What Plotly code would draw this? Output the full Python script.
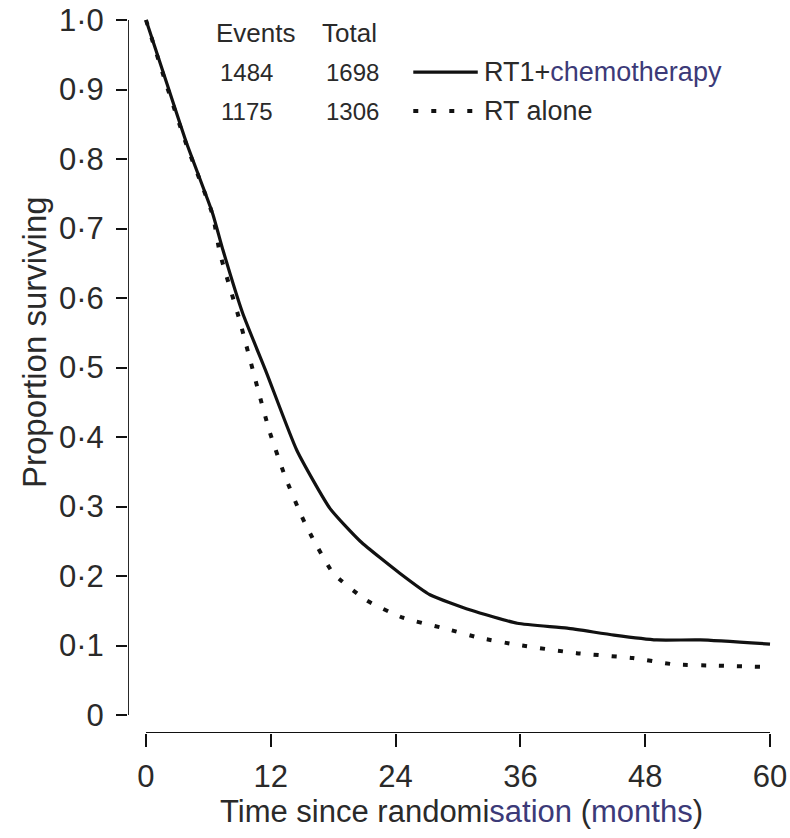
import plotly.graph_objects as go

# ---- data ----
months_chemo = [0, 2, 3.9, 6.4, 7.4, 9.3, 11.6, 14.5, 17.7, 20.6, 24.4, 27.3, 31.2, 35.7, 40.5, 45, 49.1, 53.3, 60]
surv_chemo = [1.0, 0.909, 0.823, 0.722, 0.669, 0.578, 0.492, 0.381, 0.297, 0.25, 0.204, 0.173, 0.151, 0.132, 0.125, 0.115, 0.108, 0.108, 0.102]

months_rt = [0, 2, 3.9, 6.4, 7.1, 9.0, 10.7, 11.9, 13.4, 15.0, 16.0, 18.0, 21.2, 24.7, 28.6, 32.1, 35.7, 41.4, 46.8, 50.7, 55, 60]
surv_rt = [1.0, 0.905, 0.82, 0.72, 0.665, 0.568, 0.472, 0.407, 0.342, 0.285, 0.255, 0.204, 0.165, 0.140, 0.125, 0.111, 0.101, 0.089, 0.082, 0.073, 0.071, 0.069]

group_names = ["RT1+chemotherapy", "RT alone"]
events = [1484, 1175]
totals = [1698, 1306]

x_ticks = [0, 12, 24, 36, 48, 60]
y_ticks = [0, 0.1, 0.2, 0.3, 0.4, 0.5, 0.6, 0.7, 0.8, 0.9, 1.0]
y_ticktext = ["0", "0·1", "0·2", "0·3", "0·4", "0·5", "0·6", "0·7", "0·8", "0·9", "1·0"]

FONT = "Liberation Sans"
TXT = "#2a2a2a"
BLUE = "#3c3a78"

fig = go.Figure()
fig.add_trace(go.Scatter(x=months_chemo, y=surv_chemo, mode="lines", line_shape="spline",
                         line=dict(color="#111111", width=3.2, smoothing=0.5), showlegend=False))
fig.add_trace(go.Scatter(x=months_rt, y=surv_rt, mode="lines", line_shape="spline",
                         line=dict(color="#111111", width=4, dash="5px,13px", smoothing=0.5),
                         showlegend=False))

XMIN, XMAX = -1.73, 60.48
YMIN, YMAX = -0.0259, 1.0072

# axis lines (separated, like the reference)
fig.add_shape(type="line", xref="x", yref="y", x0=XMIN, x1=XMIN, y0=0, y1=1.0,
              line=dict(color="#111111", width=1.8))
fig.add_shape(type="line", xref="x", yref="y", x0=0, x1=60, y0=YMIN, y1=YMIN,
              line=dict(color="#111111", width=2.2))

# legend table
rows_y = [0.925, 0.869]
fig.add_annotation(x=10.6, y=0.981, text="Events", showarrow=False, xref="x", yref="y",
                   xanchor="center", yanchor="middle", font=dict(family=FONT, size=26, color=TXT))
fig.add_annotation(x=19.6, y=0.981, text="Total", showarrow=False, xref="x", yref="y",
                   xanchor="center", yanchor="middle", font=dict(family=FONT, size=26, color=TXT))
for i in range(2):
    fig.add_annotation(x=9.7, y=rows_y[i], text=str(events[i]), showarrow=False, xref="x", yref="y",
                       xanchor="center", yanchor="middle", font=dict(family=FONT, size=24, color=TXT))
    fig.add_annotation(x=19.9, y=rows_y[i], text=str(totals[i]), showarrow=False, xref="x", yref="y",
                       xanchor="center", yanchor="middle", font=dict(family=FONT, size=24, color=TXT))
label_html = ["RT1+<span style='color:%s'>chemotherapy</span>" % BLUE, "RT alone"]
for i in range(2):
    fig.add_annotation(x=32.3, y=rows_y[i], text=label_html[i], showarrow=False, xref="x", yref="y",
                       xanchor="left", yanchor="middle", font=dict(family=FONT, size=27, color=TXT))
fig.add_shape(type="line", xref="x", yref="y", x0=25.7, x1=31.9, y0=rows_y[0], y1=rows_y[0],
              line=dict(color="#111111", width=3.2))
fig.add_shape(type="line", xref="x", yref="y", x0=25.7, x1=32.3, y0=rows_y[1], y1=rows_y[1],
              line=dict(color="#111111", width=4, dash="5px,13px"))

# axis titles
fig.add_annotation(x=-0.1437, y=0.5446, xref="paper", yref="paper", text="Proportion surviving",
                   textangle=-90, showarrow=False, xanchor="center", yanchor="middle",
                   font=dict(family=FONT, size=33, color=TXT))
fig.add_annotation(x=0.516, y=-0.110, xref="paper", yref="paper",
                   text="Time since randomi<span style='color:%s'>sation</span> (<span style='color:%s'>months</span>)" % (BLUE, BLUE),
                   showarrow=False, xanchor="center", yanchor="middle",
                   font=dict(family=FONT, size=31, color=TXT))

fig.update_xaxes(range=[XMIN, XMAX], tickvals=x_ticks, ticktext=[str(v) for v in x_ticks],
                 ticks="outside", ticklen=13, tickwidth=1.5, tickcolor="#111111",
                 showline=False, showgrid=False, zeroline=False, ticklabelstandoff=3,
                 ticklabeloverflow="allow", automargin=False,
                 tickfont=dict(family=FONT, size=31, color=TXT))
fig.update_yaxes(range=[YMIN, YMAX], tickvals=y_ticks, ticktext=y_ticktext,
                 ticks="outside", ticklen=11, tickwidth=1.5, tickcolor="#111111",
                 showline=False, showgrid=False, zeroline=False, ticklabelstandoff=6,
                 ticklabeloverflow="allow", automargin=False,
                 tickfont=dict(family=FONT, size=31, color=TXT))

fig.update_layout(width=790, height=838, margin=dict(l=128, r=15, t=15, b=105),
                  plot_bgcolor="white", paper_bgcolor="white", showlegend=False)

# remove the default page margin so the 790x838 figure fills the window exactly
fig.write_html("out.html", config={"displayModeBar": False},
               post_script="document.body.style.margin='0';document.body.style.overflow='hidden';")
